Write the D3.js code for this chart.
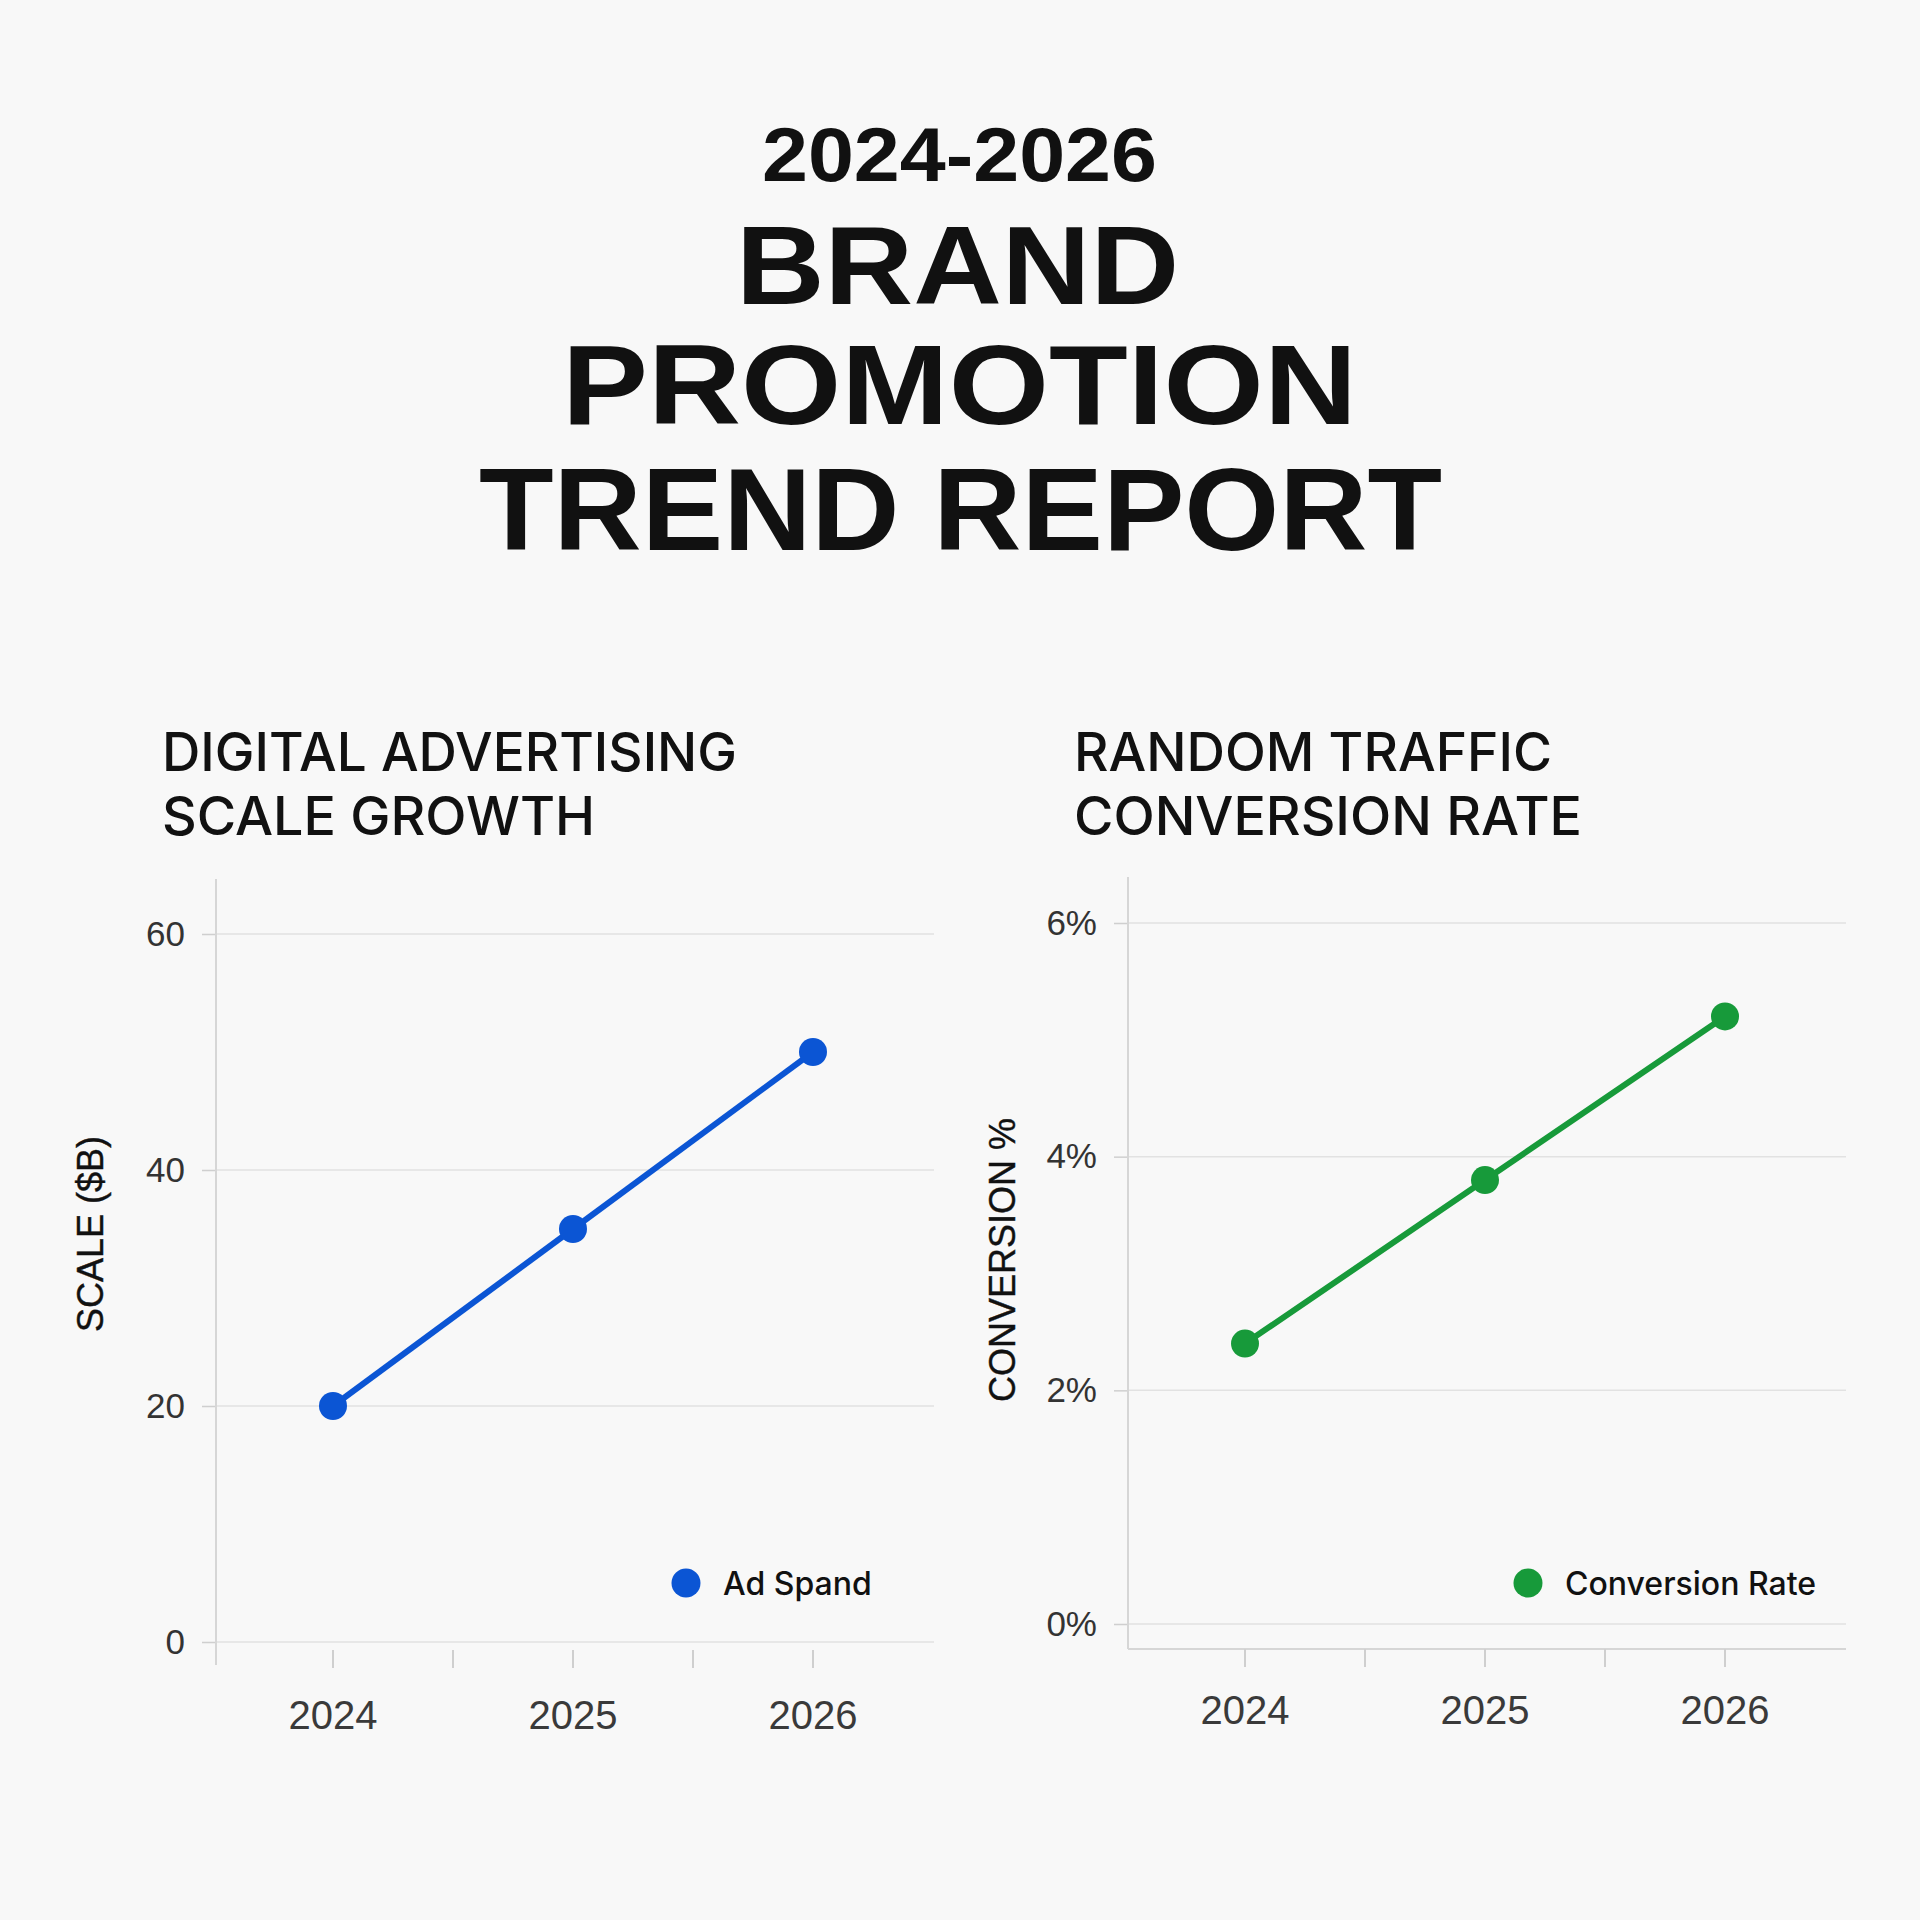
<!DOCTYPE html>
<html>
<head>
<meta charset="utf-8">
<script src="https://cdn.jsdelivr.net/npm/d3@7"></script>
<style>
  html, body { margin: 0; padding: 0; background: #f8f8f8; }
  svg { display: block; }
</style>
</head>
<body>
<div id="chart"></div>
<script>
// data
var years = [2024, 2025, 2026]
var minorYears = [2024.5, 2025.5]
var adSpend = [20, 35, 50]
var conversionRate = [2.4, 3.8, 5.2]
var spendTicks = [0, 20, 40, 60]
var conversionTicks = [0, 2, 4, 6]

var W = 1920, H = 1920
var svg = d3.select("#chart").append("svg")
  .attr("width", W)
  .attr("height", H)

svg.append("rect").attr("width", W).attr("height", H).attr("fill", "#f8f8f8")

// big title, widths stretched to match the poster lettering
var titleLines = [
  { text: "2024-2026", x: 762, y: 181, size: 76, len: 395 },
  { text: "BRAND", x: 736, y: 304, size: 112, len: 443 },
  { text: "PROMOTION", x: 562, y: 424, size: 113, len: 795 },
  { text: "TREND REPORT", x: 479, y: 550, size: 116, len: 963 }
]
svg.selectAll("text.title")
  .data(titleLines)
  .enter().append("text")
  .attr("class", "title")
  .attr("x", function(d) { return d.x })
  .attr("y", function(d) { return d.y })
  .attr("font-family", "'Liberation Sans', Arial, sans-serif")
  .attr("font-weight", "bold")
  .attr("font-size", function(d) { return d.size })
  .attr("textLength", function(d) { return d.len })
  .attr("lengthAdjust", "spacingAndGlyphs")
  .attr("fill", "#111")
  .text(function(d) { return d.text })

function panel(cfg) {
  var g = svg.append("g")
  var ax = cfg.axisX

  // subtitle
  cfg.heading.forEach(function(line, i) {
    g.append("text")
      .attr("x", ax - 54)
      .attr("y", 771 + i * 64)
      .attr("font-family", "Inter, 'Liberation Sans', sans-serif")
      .attr("font-weight", 500)
      .attr("font-size", 53)
      .attr("textLength", cfg.headingLen[i])
      .attr("lengthAdjust", "spacingAndGlyphs")
      .attr("fill", "#111")
      .text(line)
  })

  var x = d3.scaleLinear().domain([2024, 2026]).range([ax + 117, ax + 597])
  var y = d3.scaleLinear().domain(cfg.domain).range([cfg.y0, cfg.yTop])
  var right = ax + 718

  // gridlines
  g.selectAll("line.grid")
    .data(cfg.ticks)
    .enter().append("line")
    .attr("x1", ax).attr("x2", right)
    .attr("y1", function(d) { return y(d) })
    .attr("y2", function(d) { return y(d) })
    .attr("stroke", "#e2e2e2")
    .attr("stroke-width", 1.5)

  // y axis
  var yAxis = d3.axisLeft(y)
    .tickValues(cfg.ticks)
    .tickSize(14)
    .tickPadding(17)
    .tickFormat(cfg.fmt)
  var ya = g.append("g").attr("transform", "translate(" + ax + ",0)").call(yAxis)
  ya.select(".domain").remove()
  ya.selectAll(".tick line").attr("stroke", "#cfcfcf").attr("stroke-width", 1.5)
  ya.selectAll(".tick text")
    .attr("font-family", "'Liberation Sans', Arial, sans-serif")
    .attr("font-size", 35)
    .attr("fill", "#333")

  g.append("line")
    .attr("x1", ax).attr("x2", ax)
    .attr("y1", cfg.axisTop).attr("y2", cfg.axisBottom)
    .attr("stroke", "#d6d6d6").attr("stroke-width", 2)

  if (cfg.baseLine) {
    g.append("line")
      .attr("x1", ax).attr("x2", right)
      .attr("y1", cfg.baseLine).attr("y2", cfg.baseLine)
      .attr("stroke", "#d6d6d6").attr("stroke-width", 2)
  }

  // x ticks, major and minor
  g.selectAll("line.xtick")
    .data(years.concat(minorYears))
    .enter().append("line")
    .attr("x1", function(d) { return x(d) })
    .attr("x2", function(d) { return x(d) })
    .attr("y1", cfg.tickTop).attr("y2", cfg.tickTop + 18)
    .attr("stroke", "#cfcfcf").attr("stroke-width", 2)

  g.selectAll("text.xlab")
    .data(years)
    .enter().append("text")
    .attr("x", function(d) { return x(d) })
    .attr("y", cfg.labelY)
    .attr("text-anchor", "middle")
    .attr("font-family", "'Liberation Sans', Arial, sans-serif")
    .attr("font-size", 40)
    .attr("fill", "#3a3a3a")
    .text(function(d) { return d })

  // y label
  g.append("text")
    .attr("transform", "translate(" + (ax - 113) + "," + cfg.labelMid + ") rotate(-90)")
    .attr("text-anchor", "middle")
    .attr("font-family", "'Liberation Sans', Arial, sans-serif")
    .attr("font-size", 36)
    .attr("fill", "#111")
    .attr("stroke", "#111")
    .attr("stroke-width", 0.4)
    .text(cfg.yLabel)

  // series
  var pts = years.map(function(yr, i) { return [yr, cfg.values[i]] })
  var line = d3.line()
    .x(function(d) { return x(d[0]) })
    .y(function(d) { return y(d[1]) })
  g.append("path")
    .datum(pts)
    .attr("d", line)
    .attr("fill", "none")
    .attr("stroke", cfg.color)
    .attr("stroke-width", 6)
  g.selectAll("circle.pt")
    .data(pts)
    .enter().append("circle")
    .attr("cx", function(d) { return x(d[0]) })
    .attr("cy", function(d) { return y(d[1]) })
    .attr("r", 14)
    .attr("fill", cfg.color)

  // legend
  g.append("circle")
    .attr("cx", cfg.legendX).attr("cy", 1583).attr("r", 14.5)
    .attr("fill", cfg.color)
  g.append("text")
    .attr("x", cfg.legendX + 37)
    .attr("y", 1595)
    .attr("font-family", "Inter, 'Liberation Sans', sans-serif")
    .attr("font-weight", 500)
    .attr("font-size", 32)
    .attr("fill", "#111")
    .text(cfg.legend)
}

panel({
  axisX: 216,
  heading: ["DIGITAL ADVERTISING", "SCALE GROWTH"],
  headingLen: [575, 433],
  domain: [0, 60], y0: 1642, yTop: 934,
  ticks: spendTicks,
  fmt: function(d) { return d },
  axisTop: 879, axisBottom: 1665,
  baseLine: null,
  tickTop: 1650, labelY: 1729,
  yLabel: "SCALE ($B)", labelMid: 1234,
  values: adSpend, color: "#0b55d4",
  legendX: 686, legend: "Ad Spand"
})

panel({
  axisX: 1128,
  heading: ["RANDOM TRAFFIC", "CONVERSION RATE"],
  headingLen: [478, 508],
  domain: [0, 6], y0: 1624, yTop: 923,
  ticks: conversionTicks,
  fmt: function(d) { return d + "%" },
  axisTop: 877, axisBottom: 1649,
  baseLine: 1649,
  tickTop: 1649, labelY: 1724,
  yLabel: "CONVERSION %", labelMid: 1260,
  values: conversionRate, color: "#179a3a",
  legendX: 1528, legend: "Conversion Rate"
})
</script>
</body>
</html>
